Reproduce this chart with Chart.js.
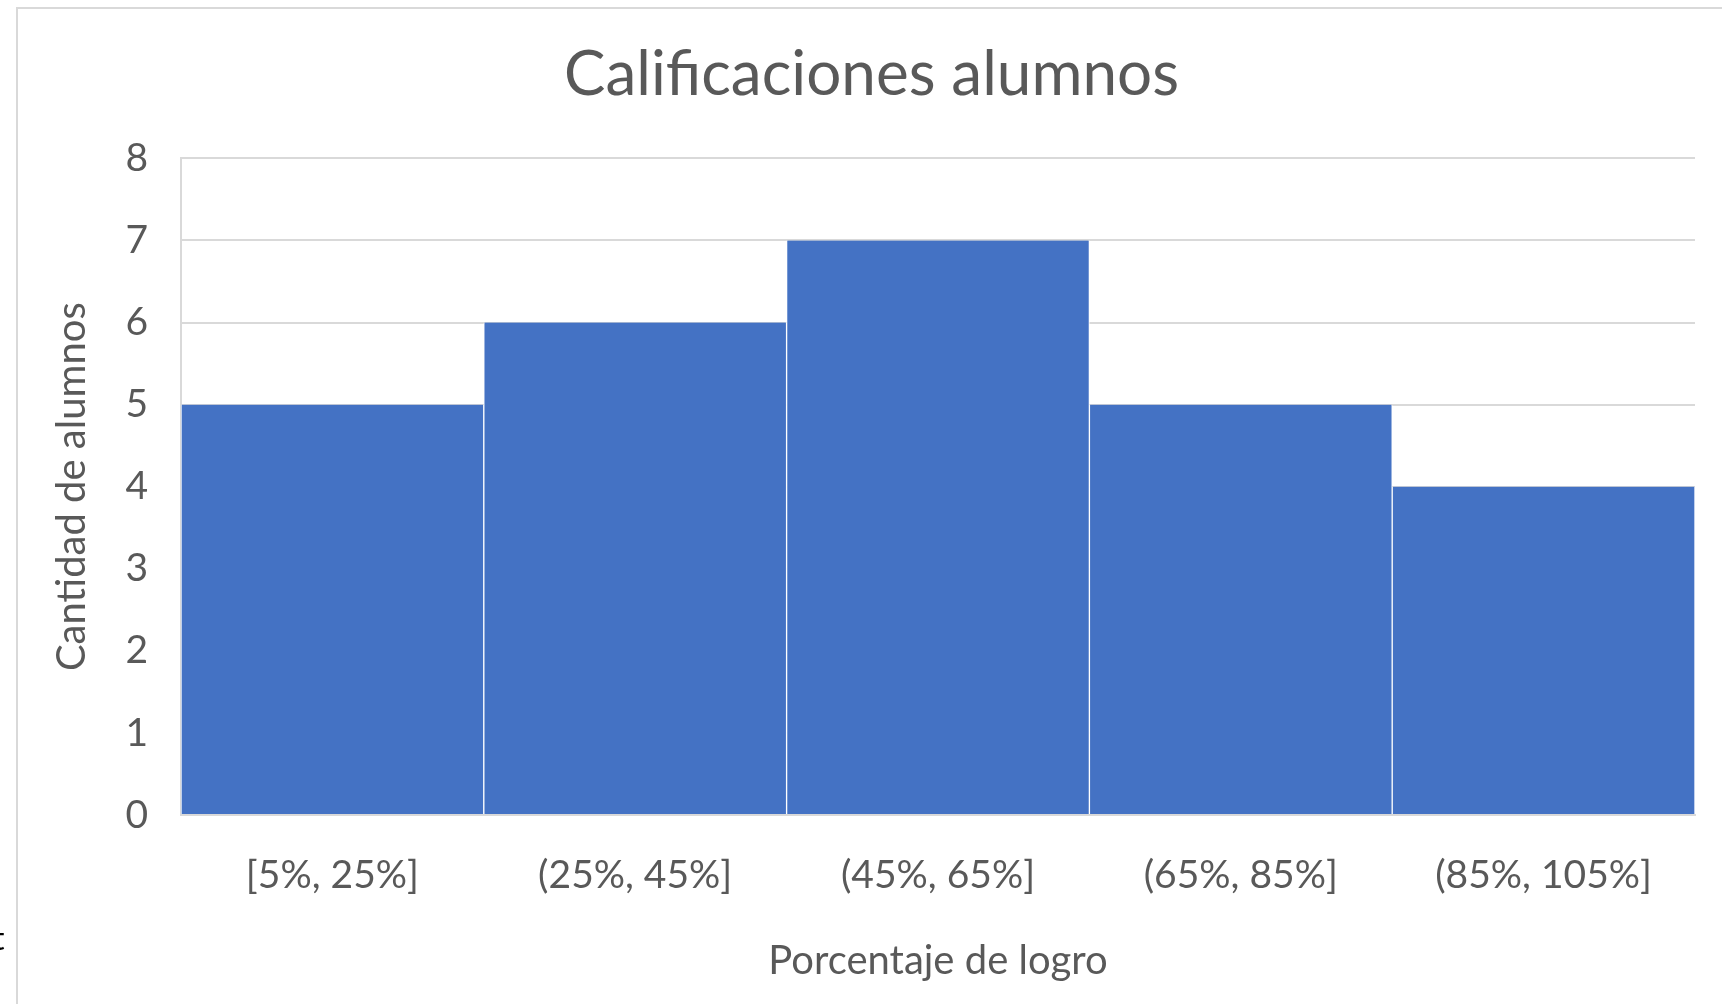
<!DOCTYPE html>
<html>
<head>
<meta charset="utf-8">
<script src="https://cdn.jsdelivr.net/npm/chart.js@4/dist/chart.umd.min.js"></script>
<style>
  html, body { margin:0; padding:0; background:#fff; overflow:hidden; }
  #wrap { position:relative; width:1722px; height:1004px; }
  #frame { position:absolute; left:16px; top:7px; width:1800px; height:1100px; border:2px solid #d9d9d9; box-sizing:border-box; }
  #chart { position:absolute; left:0; top:0; }
  #stray { position:absolute; left:-7px; top:918px; font:32px Lato, sans-serif; color:#000; }
</style>
</head>
<body>
<div id="wrap">
  <div id="frame"></div>
  <canvas id="chart" width="1722" height="1004"></canvas>
  <div id="stray">t</div>
</div>
<script>
const bins = ['[5%, 25%]', '(25%, 45%]', '(45%, 65%]', '(65%, 85%]', '(85%, 105%]'];
const alumnos = [5, 6, 7, 5, 4];
const yMin = 0, yMax = 8, yStep = 1;

const GREY = '#595959', GRID = '#d9d9d9', FONT = 'Lato, "Open Sans", sans-serif';

new Chart(document.getElementById('chart'), {
  type:'bar',
  data:{ labels:bins, datasets:[{
    label:'Cantidad de alumnos', data:alumnos,
    backgroundColor:'#4472c4', borderColor:'#ffffff',
    borderWidth:{left:1, right:1, top:0, bottom:0}, borderSkipped:false,
    barPercentage:1.0, categoryPercentage:1.0
  }]},
  options:{ responsive:false, animation:false,
    layout:{ padding:{left:48, right:27, top:0, bottom:0} },
    plugins:{
      legend:{display:false}, tooltip:{enabled:false},
      title:{ display:true, text:'Calificaciones alumnos', color:GREY,
        font:{family:FONT, size:62, weight:'normal', lineHeight:1.2},
        padding:{top:38, bottom:46} }
    },
    scales:{
      x:{ grid:{display:false, drawTicks:false},
        border:{display:true, color:GRID, width:2},
        ticks:{color:GREY, padding:37, maxRotation:0, font:{family:FONT, size:39, lineHeight:1.2}},
        title:{display:true, text:'Porcentaje de logro', color:GREY,
          font:{family:FONT, size:40, lineHeight:1.2}, padding:{top:0, bottom:19}},
        afterFit:s=>{ s.height = 189; } },
      y:{ min:yMin, max:yMax,
        grid:{color:GRID, lineWidth:2, drawTicks:false},
        border:{display:true, color:GRID, width:2},
        ticks:{stepSize:yStep, color:GREY, padding:33, font:{family:FONT, size:39, lineHeight:1.2}},
        title:{display:true, text:'Cantidad de alumnos', color:GREY,
          font:{family:FONT, size:40, lineHeight:1.2}, padding:{top:0, bottom:0}},
        afterFit:s=>{ s.width = 133; } }
    }
  }
});
</script>
</body>
</html>
